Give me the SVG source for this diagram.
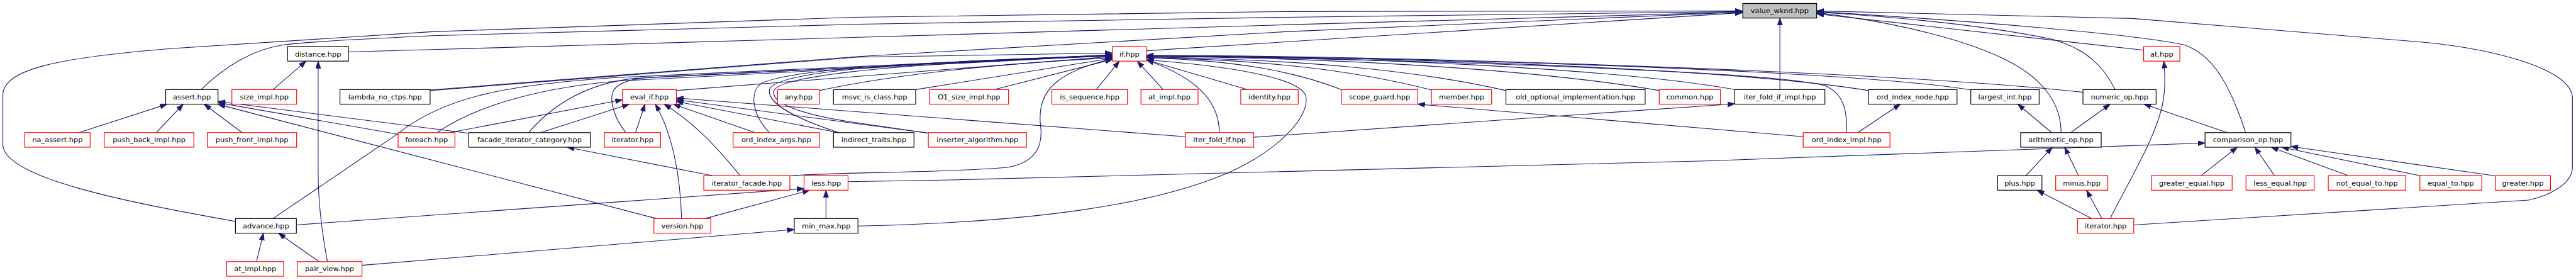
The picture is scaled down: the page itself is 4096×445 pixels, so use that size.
<svg xmlns="http://www.w3.org/2000/svg" width="4096" height="445" viewBox="0 0 4096 445">
<defs>
<marker id="a" markerUnits="userSpaceOnUse" markerWidth="14" markerHeight="11" refX="12.5" refY="4.5" orient="auto">
<path d="M0,0 L12.5,4.5 L0,9 z" fill="#191970" stroke="#191970" stroke-width="0.8"/>
</marker>
</defs>
<style>
.n rect{fill:#fff;stroke-width:1.3}
.r rect{stroke:#ff0000}
.b rect{stroke:#000}
.g rect{fill:#bfbfbf;stroke:#000}
text{font-family:"DejaVu Sans",sans-serif;font-size:12.4px;text-anchor:middle;fill:#000}
#edges path{fill:none;stroke:#191970;stroke-width:1.2;marker-end:url(#a)}
</style>
<rect width="4096" height="445" fill="#fff"/>
<g transform="scale(0.9165)">
<g id="edges">
<path d="M408.5,384 C 230,352 5,310 5,250 L 5,165 C 5,120 100,100 300,84 L 750,55 L 1480,30 L 2230,20 L 3023,19"/>
<path d="M349,155.3 C 390,115 440,85 491,78 C 520,74 560,71 750,62 L 1490,42 L 2230,30 L 3023,20"/>
<path d="M604.6,90 L 750,86 L 1480,65 L 2230,43 L 3023,21"/>
<path d="M746.2,156 L 1490,98 L 2230,55 L 3023,21"/>
<path d="M1989,88 L 3023,22"/>
<path d="M3088,155.3 L 3088,31.3"/>
<path d="M3719.1,87 L 3151.8,24"/>
<path d="M3669.5,155.3 C 3650,115 3620,85 3560,68 C 3450,45 3300,30 3151.8,21"/>
<path d="M3575.8,230 C 3576,185 3550,140 3486,107 C 3420,72 3300,40 3151.8,22"/>
<path d="M3896,230 C 3870,150 3840,95 3790,78 C 3700,58 3400,35 3151.8,20"/>
<path d="M3701.9,390 L 4387,347 C 4420,340 4463,320 4463,290 L 4463,170 C 4463,115 4300,80 4190,72 L 3700,32 L 3151.8,19"/>
<path d="M746.2,157 L 1490,99 L 1930,92"/>
<path d="M1173.4,157 L 1930,98"/>
<path d="M473.5,379 L 690,232 C 770,168 880,146 1080,134 L 1930,95"/>
<path d="M758,230 C 830,180 950,150 1080,140 L 1930,96"/>
<path d="M917,230 C 960,180 1020,145 1100,136 L 1930,95"/>
<path d="M1086,230 C 1065,205 1058,175 1063,160 C 1070,142 1100,136 1130,134 L 1930,96"/>
<path d="M1421.6,157 C 1500,140 1650,115 1930,100"/>
<path d="M1588.6,155.3 L 1930,101"/>
<path d="M1725.5,155.3 L 1930,103"/>
<path d="M1335,230 C 1305,200 1300,160 1320,145 C 1360,125 1500,110 1930,97"/>
<path d="M1455,230 C 1380,205 1330,180 1335,155 C 1345,128 1500,110 1930,96"/>
<path d="M1612,231 L 1480,212 C 1400,200 1342,182 1342,160 C 1342,135 1500,112 1930,97"/>
<path d="M1370.4,305 C 1450,298 1650,300 1750,290 C 1800,280 1810,250 1805,215 C 1800,160 1830,125 1930,102"/>
<path d="M1902,155.3 L 1942,106"/>
<path d="M2018,155.3 L 1973,106"/>
<path d="M2164,155.3 L 1989,104"/>
<path d="M2115.5,230 C 2115,185 2090,140 1989,104"/>
<path d="M2327,155.3 C 2250,125 2150,105 1989,100"/>
<path d="M2483.5,156 C 2350,122 2200,104 1989,100"/>
<path d="M2612.7,157 C 2450,120 2250,103 1989,99"/>
<path d="M2879,157 C 2650,118 2300,100 1989,98"/>
<path d="M3009.7,155.3 C 2800,118 2350,98 1989,97"/>
<path d="M3241.7,157 C 3000,118 2400,98 1989,97"/>
<path d="M3419.2,156 C 3200,120 2400,98 1989,97"/>
<path d="M3613.8,160 C 3300,125 2450,97 1989,96"/>
<path d="M3204,230 C 3205,185 3195,160 3165,148 C 3050,120 2300,100 1989,97"/>
<path d="M1488.5,392 C 1800,385 2000,355 2130,300 C 2220,260 2275,200 2265,165 C 2250,130 2100,112 1989,104"/>
<path d="M780,230 L 1080,173"/>
<path d="M938,230 L 1092,180.6"/>
<path d="M1102.5,230 L 1119,180.6"/>
<path d="M1182.5,379 C 1180,300 1165,230 1137,180.6"/>
<path d="M1284,304.5 C 1240,250 1200,210 1152,180.6"/>
<path d="M1310,230 L 1168,180.6"/>
<path d="M1455,230 L 1173.4,176"/>
<path d="M2056.5,237 L 1173.4,170"/>
<path d="M1612,231 L 1173.4,173"/>
<path d="M137,230 L 290,180.6"/>
<path d="M271,230 L 318,180.6"/>
<path d="M420,230 L 354,180.6"/>
<path d="M691,233 L 378.3,178"/>
<path d="M813.2,231 L 378.3,176"/>
<path d="M1139,379 L 378.3,181"/>
<path d="M473.6,155.3 L 531,106"/>
<path d="M568,453.7 C 558,400 552,350 552,300 L 552,106"/>
<path d="M445,453.7 L 457,404.3"/>
<path d="M553.6,453.7 L 483,404.3"/>
<path d="M628,460 L 1378,398"/>
<path d="M514.2,390 L 1395,327"/>
<path d="M1223,379 L 1405,329.8"/>
<path d="M1433,379 L 1433,329.8"/>
<path d="M1235,304.5 L 984,255.3"/>
<path d="M1471.3,315 L 1650,312 L 2960,279 L 3825.6,248"/>
<path d="M3818.7,304.5 L 3881.5,255.3"/>
<path d="M3946,304.5 L 3912,255.3"/>
<path d="M4073.7,304.5 L 3940.3,255.3"/>
<path d="M4197.8,304.5 L 3958.5,255.3"/>
<path d="M4329,305 L 3974.6,254"/>
<path d="M3864,230 L 3719.6,180.6"/>
<path d="M3592.5,230 L 3661,180.6"/>
<path d="M3559.5,230 L 3500.7,180.6"/>
<path d="M3515,304.5 L 3560.5,255.3"/>
<path d="M3606,304.5 L 3582,255.3"/>
<path d="M3629,379 L 3534,329.8"/>
<path d="M3646.6,379 L 3620,329.8"/>
<path d="M3661,379 C 3690,320 3740,240 3752,180 C 3758,150 3756,125 3754,106"/>
<path d="M3223,230 L 3297,180.6"/>
<path d="M3128.4,237 L 2459.6,180.6"/>
<path d="M2175,238 L 3010,180"/>
</g>
<g id="value_wknd" class="n g"><rect x="3023.6" y="6" width="128.2" height="25.3"/><text x="3087.7" y="23">value_wknd.hpp</text></g>
<g id="distance" class="n b"><rect x="498.9" y="80.7" width="105.7" height="25.3"/><text x="551.75" y="97.7">distance.hpp</text></g>
<g id="if" class="n r"><rect x="1930" y="80.7" width="59" height="25.3"/><text x="1959.5" y="97.7">if.hpp</text></g>
<g id="at" class="n r"><rect x="3719.1" y="80.7" width="62.8" height="25.3"/><text x="3750.5" y="97.7">at.hpp</text></g>
<g id="assert" class="n b"><rect x="287.5" y="155.3" width="90.8" height="25.3"/><text x="332.9" y="172.3">assert.hpp</text></g>
<g id="size_impl" class="n r"><rect x="402.3" y="155.3" width="112.4" height="25.3"/><text x="458.5" y="172.3">size_impl.hpp</text></g>
<g id="lambda_no_ctps" class="n b"><rect x="589.8" y="155.3" width="156.4" height="25.3"/><text x="668" y="172.3">lambda_no_ctps.hpp</text></g>
<g id="eval_if" class="n r"><rect x="1080" y="155.3" width="93.4" height="25.3"/><text x="1126.7" y="172.3">eval_if.hpp</text></g>
<g id="any" class="n r"><rect x="1349" y="155.3" width="72.6" height="25.3"/><text x="1385.3" y="172.3">any.hpp</text></g>
<g id="msvc_is_class" class="n b"><rect x="1446" y="155.3" width="142.6" height="25.3"/><text x="1517.3" y="172.3">msvc_is_class.hpp</text></g>
<g id="O1_size_impl" class="n r"><rect x="1612.5" y="155.3" width="137.3" height="25.3"/><text x="1681.2" y="172.3">O1_size_impl.hpp</text></g>
<g id="is_sequence" class="n r"><rect x="1824.9" y="155.3" width="131.1" height="25.3"/><text x="1890.5" y="172.3">is_sequence.hpp</text></g>
<g id="at_impl_2" class="n r"><rect x="1979.5" y="155.3" width="99" height="25.3"/><text x="2029" y="172.3">at_impl.hpp</text></g>
<g id="identity" class="n r"><rect x="2152.7" y="155.3" width="99.6" height="25.3"/><text x="2202.5" y="172.3">identity.hpp</text></g>
<g id="scope_guard" class="n r"><rect x="2327.1" y="155.3" width="132.5" height="25.3"/><text x="2393.4" y="172.3">scope_guard.hpp</text></g>
<g id="member" class="n r"><rect x="2483.5" y="155.3" width="104.3" height="25.3"/><text x="2535.7" y="172.3">member.hpp</text></g>
<g id="old_optional_implementation" class="n b"><rect x="2612.7" y="155.3" width="241.5" height="25.3"/><text x="2733.5" y="172.3">old_optional_implementation.hpp</text></g>
<g id="common" class="n r"><rect x="2878.6" y="155.3" width="106.4" height="25.3"/><text x="2931.8" y="172.3">common.hpp</text></g>
<g id="iter_fold_if_impl" class="n b"><rect x="3009.7" y="155.3" width="156.4" height="25.3"/><text x="3087.9" y="172.3">iter_fold_if_impl.hpp</text></g>
<g id="ord_index_node" class="n b"><rect x="3241.7" y="155.3" width="153.6" height="25.3"/><text x="3318.5" y="172.3">ord_index_node.hpp</text></g>
<g id="largest_int" class="n b"><rect x="3419.2" y="155.3" width="118.6" height="25.3"/><text x="3478.5" y="172.3">largest_int.hpp</text></g>
<g id="numeric_op" class="n b"><rect x="3613.8" y="155.3" width="126.9" height="25.3"/><text x="3677.3" y="172.3">numeric_op.hpp</text></g>
<g id="na_assert" class="n r"><rect x="43" y="230" width="113.4" height="25.3"/><text x="99.7" y="247">na_assert.hpp</text></g>
<g id="push_back_impl" class="n r"><rect x="180.8" y="230" width="155.5" height="25.3"/><text x="258.6" y="247">push_back_impl.hpp</text></g>
<g id="push_front_impl" class="n r"><rect x="359.7" y="230" width="155" height="25.3"/><text x="437.2" y="247">push_front_impl.hpp</text></g>
<g id="foreach" class="n r"><rect x="690.7" y="230" width="98.6" height="25.3"/><text x="740" y="247">foreach.hpp</text></g>
<g id="facade_iterator_category" class="n b"><rect x="813.2" y="230" width="210.9" height="25.3"/><text x="918.7" y="247">facade_iterator_category.hpp</text></g>
<g id="iterator_1" class="n r"><rect x="1048.5" y="230" width="97.6" height="25.3"/><text x="1097.3" y="247">iterator.hpp</text></g>
<g id="ord_index_args" class="n r"><rect x="1271.9" y="230" width="149.7" height="25.3"/><text x="1346.8" y="247">ord_index_args.hpp</text></g>
<g id="indirect_traits" class="n b"><rect x="1446" y="230" width="139.7" height="25.3"/><text x="1515.9" y="247">indirect_traits.hpp</text></g>
<g id="inserter_algorithm" class="n r"><rect x="1610.6" y="230" width="170.3" height="25.3"/><text x="1695.8" y="247">inserter_algorithm.hpp</text></g>
<g id="iter_fold_if" class="n r"><rect x="2056.5" y="230" width="118.5" height="25.3"/><text x="2115.8" y="247">iter_fold_if.hpp</text></g>
<g id="ord_index_impl" class="n r"><rect x="3128.4" y="230" width="150.6" height="25.3"/><text x="3203.7" y="247">ord_index_impl.hpp</text></g>
<g id="arithmetic_op" class="n b"><rect x="3505.7" y="230" width="139.7" height="25.3"/><text x="3575.6" y="247">arithmetic_op.hpp</text></g>
<g id="comparison_op" class="n b"><rect x="3825.6" y="230" width="149" height="25.3"/><text x="3900.1" y="247">comparison_op.hpp</text></g>
<g id="iterator_facade" class="n r"><rect x="1221" y="304.5" width="149.4" height="25.3"/><text x="1295.7" y="321.5">iterator_facade.hpp</text></g>
<g id="less" class="n r"><rect x="1395" y="304.5" width="76.3" height="25.3"/><text x="1433.2" y="321.5">less.hpp</text></g>
<g id="plus" class="n b"><rect x="3465.6" y="304.5" width="77" height="25.3"/><text x="3504.1" y="321.5">plus.hpp</text></g>
<g id="minus" class="n r"><rect x="3566.5" y="304.5" width="90.4" height="25.3"/><text x="3611.7" y="321.5">minus.hpp</text></g>
<g id="greater_equal" class="n r"><rect x="3732.4" y="304.5" width="140.2" height="25.3"/><text x="3802.5" y="321.5">greater_equal.hpp</text></g>
<g id="less_equal" class="n r"><rect x="3896.7" y="304.5" width="118.2" height="25.3"/><text x="3955.8" y="321.5">less_equal.hpp</text></g>
<g id="not_equal_to" class="n r"><rect x="4039.4" y="304.5" width="134.4" height="25.3"/><text x="4106.6" y="321.5">not_equal_to.hpp</text></g>
<g id="equal_to" class="n r"><rect x="4198.3" y="304.5" width="107.4" height="25.3"/><text x="4252" y="321.5">equal_to.hpp</text></g>
<g id="greater" class="n r"><rect x="4329.2" y="304.5" width="95.7" height="25.3"/><text x="4377" y="321.5">greater.hpp</text></g>
<g id="advance" class="n b"><rect x="408.5" y="379" width="105.7" height="25.3"/><text x="461.4" y="396">advance.hpp</text></g>
<g id="version" class="n r"><rect x="1134.5" y="379" width="98.7" height="25.3"/><text x="1183.9" y="396">version.hpp</text></g>
<g id="min_max" class="n b"><rect x="1378" y="379" width="110.5" height="25.3"/><text x="1433.3" y="396">min_max.hpp</text></g>
<g id="iterator_2" class="n r"><rect x="3604.3" y="379" width="97.6" height="25.3"/><text x="3653.1" y="396">iterator.hpp</text></g>
<g id="at_impl_1" class="n r"><rect x="393.2" y="453.7" width="99" height="25.3"/><text x="442.7" y="470.7">at_impl.hpp</text></g>
<g id="pair_view" class="n r"><rect x="515.6" y="453.7" width="112.4" height="25.3"/><text x="571.8" y="470.7">pair_view.hpp</text></g>
</g>
</svg>
